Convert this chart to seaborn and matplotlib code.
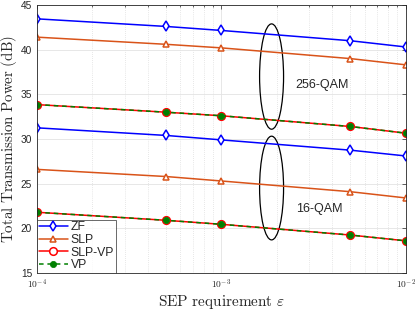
import matplotlib

matplotlib.use("Agg")
import matplotlib.pyplot as plt
import pandas as pd
import seaborn as sns
from matplotlib.patches import Ellipse
from matplotlib.ticker import FixedLocator, LogLocator, NullFormatter


sep = [1e-4, 5e-4, 1e-3, 5e-3, 1e-2]

zf_256 = [43.45, 42.6, 42.15, 41.0, 40.3]
slp_256 = [41.4, 40.6, 40.2, 39.0, 38.3]
slpvp_256 = [33.85, 33.0, 32.6, 31.4, 30.65]
vp_256 = [33.85, 33.0, 32.6, 31.4, 30.65]

zf_16 = [31.25, 30.4, 29.9, 28.75, 28.1]
slp_16 = [26.6, 25.8, 25.3, 24.1, 23.4]
slpvp_16 = [21.8, 20.9, 20.45, 19.25, 18.6]
vp_16 = [21.8, 20.9, 20.45, 19.25, 18.6]

y_ticks = [15, 20, 25, 30, 35, 40, 45]
x_ticks = [1e-4, 1e-3, 1e-2]
x_tick_labels = [r"$\mathsf{10^{-4}}$", r"$\mathsf{10^{-3}}$", r"$\mathsf{10^{-2}}$"]

sns.set_style("white")
plt.rcParams["font.family"] = ["Liberation Sans", "DejaVu Sans"]
plt.rcParams["mathtext.fontset"] = "cm"

styles = {
    "ZF": dict(color="#0000FF", marker="d", mfc="white", ms=5, mew=1.1, ls="-"),
    "SLP": dict(color="#D95319", marker="^", mfc="white", ms=5, mew=1.1, ls="-"),
    "SLP-VP": dict(color="#FF0000", marker="o", mfc="white", ms=5.5, mew=1.1, ls="-"),
    "VP": dict(color="#008000", marker="o", mfc="#008000", ms=4.5, mew=0.5, ls=(0, (3, 2.5))),
}

series = [
    ("ZF", zf_256), ("SLP", slp_256), ("SLP-VP", slpvp_256), ("VP", vp_256),
    ("ZF", zf_16), ("SLP", slp_16), ("SLP-VP", slpvp_16), ("VP", vp_16),
]

fig = plt.figure(figsize=(4.15, 3.12), dpi=100)
ax = fig.add_axes([0.089, 0.125, 0.889, 0.859])

seen = set()
for name, vals in series:
    st = styles[name]
    df = pd.DataFrame({"sep": sep, "power": vals})
    label = name if name not in seen else None
    seen.add(name)
    sns.lineplot(
        data=df, x="sep", y="power", ax=ax, color=st["color"], marker=st["marker"],
        markerfacecolor=st["mfc"], markeredgecolor=st["color"], markersize=st["ms"],
        markeredgewidth=st["mew"], linestyle=st["ls"], linewidth=1.1, label=label,
        legend=False,
    )

ax.set_xscale("log")
ax.set_xlim(1e-4, 1e-2)
ax.set_ylim(15, 45)
ax.set_yticks(y_ticks)
ax.xaxis.set_major_locator(FixedLocator(x_ticks))
ax.set_xticklabels(x_tick_labels)
ax.xaxis.set_minor_locator(LogLocator(base=10, subs=range(2, 10)))
ax.xaxis.set_minor_formatter(NullFormatter())

ax.grid(which="major", color="#e3e3e3", linewidth=0.6, linestyle="-")
ax.grid(which="minor", axis="x", color="#d0d0d0", linewidth=0.5, linestyle=(0, (1, 2)))
ax.tick_params(which="both", direction="in", top=True, right=True, labelsize=7.3,
               colors="#262626", width=0.5)
ax.tick_params(axis="x", which="major", labelsize=6.8)
ax.tick_params(which="major", length=3)
ax.tick_params(which="minor", length=1.5)
for s in ax.spines.values():
    s.set_color("#262626")
    s.set_linewidth(0.6)

ax.set_xlabel(r"$\mathrm{SEP\ requirement}\ \varepsilon$", fontsize=11, labelpad=1)
ax.set_ylabel(r"$\mathrm{Total\ Transmission\ Power\ (dB)}$", fontsize=10.8, labelpad=1)

ax.add_patch(Ellipse((0.636, 0.733), 0.065, 0.393, transform=ax.transAxes,
                     fill=False, edgecolor="black", linewidth=0.9))
ax.add_patch(Ellipse((0.636, 0.317), 0.065, 0.387, transform=ax.transAxes,
                     fill=False, edgecolor="black", linewidth=0.9))
ax.text(0.70, 0.70, "256-QAM", transform=ax.transAxes, fontsize=9, va="center")
ax.text(0.703, 0.237, "16-QAM", transform=ax.transAxes, fontsize=9, va="center")

leg = ax.legend(loc="lower left", fontsize=8.8, frameon=True, fancybox=False,
                borderaxespad=0, handlelength=2.4, handletextpad=0.2,
                labelspacing=0.05, borderpad=0.15)
leg.get_frame().set_edgecolor("#262626")
leg.get_frame().set_linewidth(0.6)

fig.savefig("out.png", dpi=100)
